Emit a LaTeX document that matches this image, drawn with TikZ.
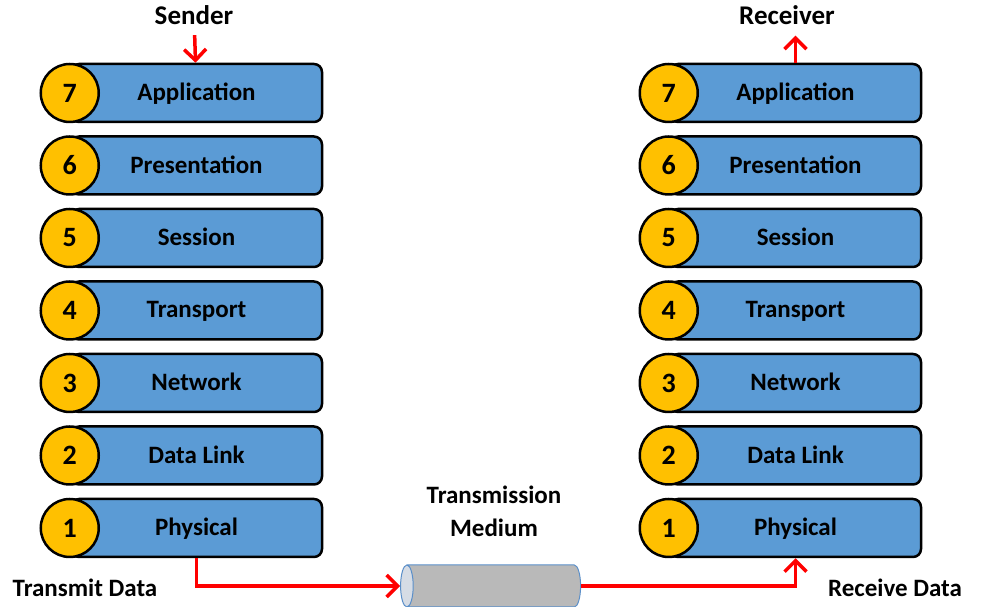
\documentclass[tikz,border=0pt]{standalone}
\usepackage{fontspec}
\setmainfont{Carlito}
\usepackage{xcolor}
\usetikzlibrary{arrows.meta,positioning,shapes.geometric}
\definecolor{layerblue}{HTML}{5B9BD5}
\definecolor{numgold}{HTML}{FFC000}
\definecolor{pipeblue}{HTML}{5B8FC9}
\definecolor{pipeend}{HTML}{D6DCE5}

\begin{document}
\begin{tikzpicture}[x=1pt,y=1pt,node distance=12pt,
  every node/.style={font=\fontsize{25}{33}\selectfont\bfseries},
  layer/.style={draw,line width=2.5pt,rounded corners=8pt,fill=layerblue,
    minimum width=251pt,minimum height=58pt,inner sep=0pt,text depth=2pt},
  num/.style={draw,line width=2.5pt,circle,fill=numgold,minimum size=58pt,inner sep=0pt,
    font=\fontsize{28}{30}\selectfont\bfseries},
  side/.style={font=\fontsize{27}{32}\selectfont\bfseries},
  arr/.style={-{Straight Barb[length=11pt,width=22pt,line width=3.5pt]},red,line width=3.5pt}]
\useasboundingbox (0,0) rectangle (991,607);
% sender stack
\node[layer](sa7) at (196.5,514){Application};
\node[layer,below=of sa7](sa6){Presentation};
\node[layer,below=of sa6](sa5){Session};
\node[layer,below=of sa5](sa4){Transport};
\node[layer,below=of sa4](sa3){Network};
\node[layer,below=of sa3](sa2){Data Link};
\node[layer,below=of sa2](sa1){Physical};
% receiver stack
\node[layer](ra7) at (795.5,514){Application};
\node[layer,below=of ra7](ra6){Presentation};
\node[layer,below=of ra6](ra5){Session};
\node[layer,below=of ra5](ra4){Transport};
\node[layer,below=of ra4](ra3){Network};
\node[layer,below=of ra3](ra2){Data Link};
\node[layer,below=of ra2](ra1){Physical};
\foreach \i in {1,...,7}{
  \node[num] at (sa\i.west){\i};
  \node[num] at (ra\i.west){\i};
}
% labels and medium
\node[side](snd) at (194,592){Sender};
\node[side](rcv) at (787,592){Receiver};
\node(tx) at (85,19){Transmit Data};
\node(rx) at (895,19){Receive Data};
\node[align=center](mtxt) at (494,96){Transmission\\Medium};
\node[cylinder,shape border rotate=180,draw=pipeblue,line width=1pt,
  cylinder uses custom fill,cylinder body fill=gray!55,cylinder end fill=pipeend,
  minimum height=180pt,shape aspect=0.3,inner sep=0pt](med) at (494,21){\rule{0pt}{42pt}};
\draw[arr,shorten <=7pt](snd)--(sa7);
\draw[arr](ra7.north)--++(0,27);
\draw[arr](sa1.south)|-(med.west);
\draw[arr](med.east)-|(ra1.south);
\end{tikzpicture}
\end{document}
